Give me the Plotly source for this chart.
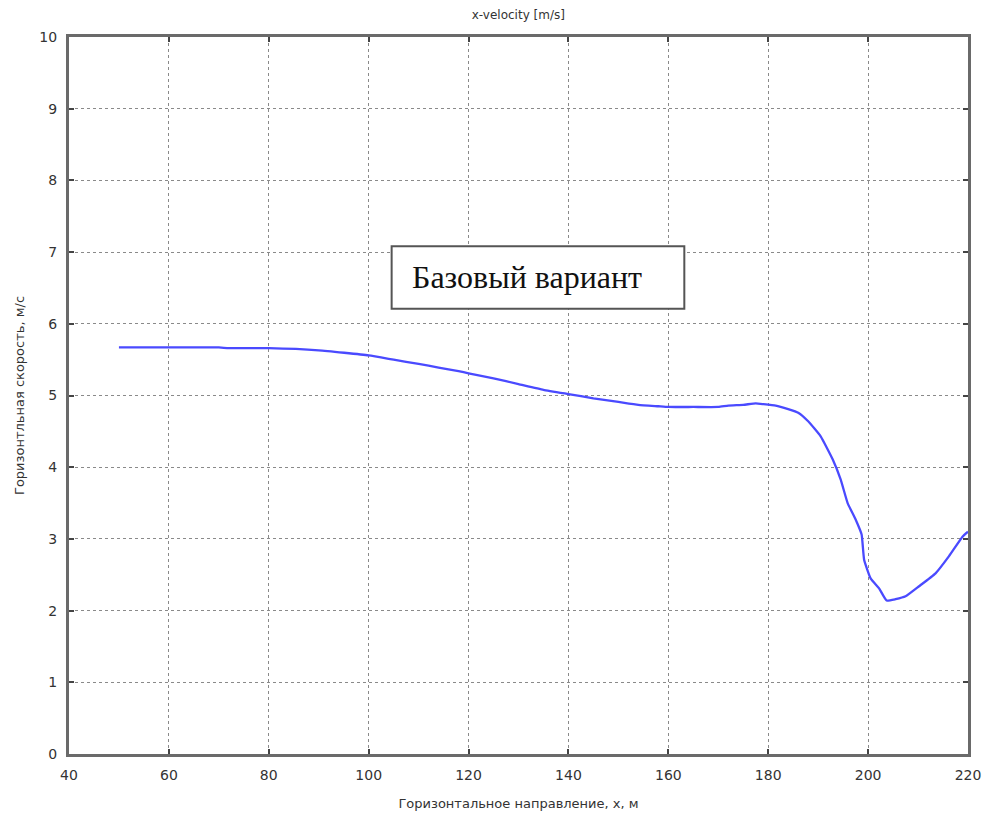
import plotly.graph_objects as go

# Horizontal distance along the section, m
x_pos = [50, 60, 70, 72, 80, 90, 100, 105, 110, 114, 118, 120, 125, 130, 135, 140, 145, 150,
         154, 158, 160, 165, 170, 172, 175, 177.5, 179, 181.5, 184, 186, 188, 190.5, 192.9,
         194.5, 195.9, 197.5, 198.7, 199.2, 200.5, 202.2, 203.7, 205.5, 207.5, 210.2,
         213.5, 216.2, 218.9, 220]
# Horizontal velocity, m/s
u_vel = [5.67, 5.67, 5.67, 5.66, 5.66, 5.63, 5.56, 5.50, 5.44, 5.39, 5.34, 5.31, 5.24, 5.16,
         5.08, 5.02, 4.96, 4.91, 4.87, 4.85, 4.84, 4.84, 4.84, 4.86, 4.87, 4.89, 4.88, 4.86,
         4.81, 4.76, 4.64, 4.43, 4.11, 3.83, 3.50, 3.27, 3.06, 2.71, 2.45, 2.31, 2.14, 2.16,
         2.20, 2.34, 2.52, 2.76, 3.03, 3.10]

x_ticks = [40, 60, 80, 100, 120, 140, 160, 180, 200, 220]
y_ticks = [0, 1, 2, 3, 4, 5, 6, 7, 8, 9, 10]

label_font = "DejaVu Sans, Verdana, sans-serif"

fig = go.Figure()
fig.add_trace(go.Scatter(
    x=x_pos, y=u_vel, mode="lines",
    line=dict(color="#4a4aff", width=2.3, shape="spline", smoothing=0.4),
    showlegend=False, hoverinfo="skip",
))

axis_common = dict(
    showline=True, linecolor="#6a6a6a", linewidth=3, mirror="ticks",
    ticks="inside", ticklen=5, tickwidth=2, tickcolor="#444444",
    showgrid=True, gridcolor="#8a8a8a", griddash="dot", gridwidth=1.3,
    zeroline=False, automargin=False,
    tickfont=dict(family=label_font, size=14, color="#333333"),
)

fig.update_xaxes(range=[40, 220], tickvals=x_ticks, ticklabelstandoff=6, **axis_common,
                 title=dict(text="Горизонтальное направление, x, м",
                            font=dict(family=label_font, size=13, color="#333333"),
                            standoff=18))
fig.update_yaxes(range=[0, 10], tickvals=y_ticks, ticklabelstandoff=6, **axis_common,
                 title=dict(text="Горизонтльная скорость, м/с",
                            font=dict(family=label_font, size=13, color="#333333"),
                            standoff=12))

# Case label box
fig.add_shape(type="rect", xref="x", yref="y", x0=104.6, x1=163.2, y0=6.21, y1=7.08,
              line=dict(color="#555555", width=2), fillcolor="white", layer="above")
fig.add_annotation(x=131.8, y=6.65, xref="x", yref="y", text="Базовый вариант",
                   showarrow=False,
                   font=dict(family="Liberation Serif, Times New Roman, serif", size=32,
                             color="#111111"))

fig.update_layout(
    width=992, height=818,
    margin=dict(l=69, r=24, t=37, b=64),
    paper_bgcolor="white", plot_bgcolor="white",
    title=dict(text="x-velocity [m/s]", x=0.5225, xanchor="center", y=0.982, yanchor="middle",
               font=dict(family=label_font, size=12, color="#333333")),
)

fig.write_html("out.html")
